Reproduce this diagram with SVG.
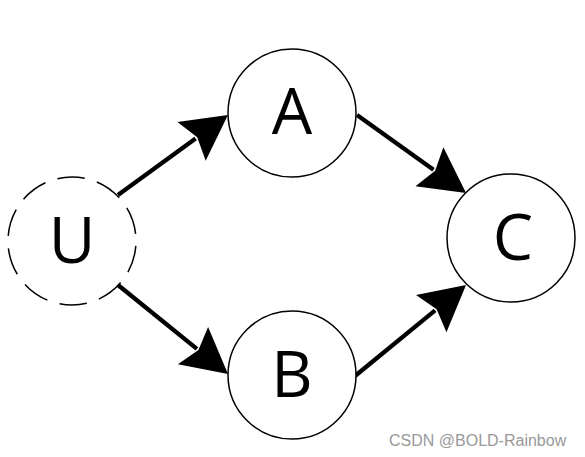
<svg xmlns="http://www.w3.org/2000/svg" width="585" height="457" viewBox="0 0 585 457">
<style>
.node{fill:#fff;stroke:#000;stroke-width:1.5}
.dashed{stroke-dasharray:27.5 12.7;stroke-dashoffset:35.2}
.lbl{font-family:"Open Sans","Noto Sans",sans-serif;font-size:64px;fill:#000;text-anchor:middle}
.edge{stroke:#000;stroke-width:4.3;fill:none;marker-end:url(#arr)}
.wm{font-family:"Liberation Sans",Arial,sans-serif;font-size:16px;fill:#999}
</style>
<defs>
<marker id="arr" markerUnits="userSpaceOnUse" orient="auto" markerWidth="100" markerHeight="100" refX="0" refY="0" viewBox="-50 -50 100 100" overflow="visible">
<path d="M-5,-24 L40,0 L-5,24 L2,0 Z" fill="#000"/>
</marker>
</defs>
<rect width="585" height="457" fill="#fff"/>
<g id="connectors">
<line class="edge" x1="118" y1="195" x2="195.6" y2="138.5"/>
<line class="edge" x1="357" y1="115" x2="433.5" y2="169.7"/>
<line class="edge" x1="118" y1="285" x2="196.9" y2="348.8"/>
<line class="edge" x1="355" y1="376" x2="435.1" y2="310.4"/>
</g>
<g id="U">
<circle class="node dashed" cx="72" cy="241" r="64"/>
<text class="lbl" x="72" y="263">U</text>
</g>
<g id="A">
<circle class="node" cx="292" cy="113" r="64"/>
<text class="lbl" x="292" y="134">A</text>
</g>
<g id="B">
<circle class="node" cx="292" cy="375" r="64"/>
<text class="lbl" x="292" y="397">B</text>
</g>
<g id="C">
<circle class="node" cx="511" cy="238" r="64"/>
<text class="lbl" x="513" y="260">C</text>
</g>
<text class="wm" x="389" y="446">CSDN @BOLD-Rainbow</text>
</svg>
